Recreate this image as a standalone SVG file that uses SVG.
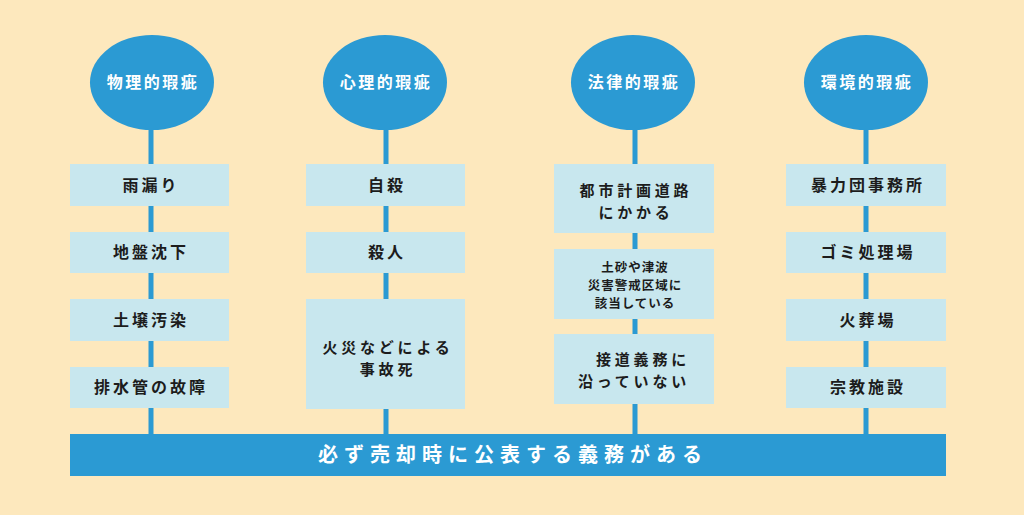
<svg xmlns="http://www.w3.org/2000/svg" width="1024" height="515" viewBox="0 0 1024 515">
<style>
.bg{fill:#fde8bd}
.el{fill:#2b9ad3}
.box{fill:#c8e7ee}
.ln{stroke:#2b9ad3;stroke-width:5;fill:none}
.et{font-family:"Noto Sans CJK JP","Noto Sans",sans-serif;font-size:16px;font-weight:700;fill:#ffffff;text-anchor:middle;letter-spacing:2.5px}
.bt{font-family:"Noto Sans CJK JP","Noto Sans",sans-serif;font-size:16px;font-weight:700;fill:#1c1c1c;text-anchor:middle;letter-spacing:3px}
.mt{font-family:"Noto Sans CJK JP","Noto Sans",sans-serif;font-size:15px;font-weight:700;fill:#1c1c1c;text-anchor:middle;letter-spacing:3.8px}
.st{font-family:"Noto Sans CJK JP","Noto Sans",sans-serif;font-size:12.5px;font-weight:700;fill:#1c1c1c;text-anchor:middle;letter-spacing:1px}
.bar{fill:#2b9ad3}
.bart{font-family:"Noto Sans CJK JP","Noto Sans",sans-serif;font-size:20px;font-weight:700;fill:#ffffff;text-anchor:middle;letter-spacing:6px}
</style>
<rect class="bg" x="0" y="0" width="1024" height="515"/>
<g id="connectors">
<line class="ln" x1="151" y1="125" x2="151" y2="436"/>
<line class="ln" x1="386" y1="125" x2="386" y2="436"/>
<line class="ln" x1="635" y1="125" x2="635" y2="436"/>
<line class="ln" x1="866" y1="125" x2="866" y2="436"/>
</g>
<g id="cat-physical">
<ellipse class="el" cx="152" cy="82.5" rx="62" ry="47.5"/>
<text class="et" x="153" y="88">物理的瑕疵</text>
</g>
<g id="cat-psychological">
<ellipse class="el" cx="385" cy="82.5" rx="62" ry="47.5"/>
<text class="et" x="386" y="88">心理的瑕疵</text>
</g>
<g id="cat-legal">
<ellipse class="el" cx="633" cy="82.5" rx="62" ry="47.5"/>
<text class="et" x="634" y="88">法律的瑕疵</text>
</g>
<g id="cat-environmental">
<ellipse class="el" cx="866" cy="82.5" rx="62" ry="47.5"/>
<text class="et" x="867" y="88">環境的瑕疵</text>
</g>
<g id="p1"><rect class="box" x="70" y="164" width="159" height="42"/><text class="bt" x="151" y="191">雨漏り</text></g>
<g id="p2"><rect class="box" x="70" y="232" width="159" height="41"/><text class="bt" x="151" y="258">地盤沈下</text></g>
<g id="p3"><rect class="box" x="70" y="299" width="159" height="42"/><text class="bt" x="151" y="326">土壌汚染</text></g>
<g id="p4"><rect class="box" x="70" y="367" width="159" height="41"/><text class="bt" x="151" y="393">排水管の故障</text></g>
<g id="s1"><rect class="box" x="306" y="164" width="159" height="42"/><text class="bt" x="387" y="191">自殺</text></g>
<g id="s2"><rect class="box" x="306" y="232" width="159" height="41"/><text class="bt" x="387" y="258">殺人</text></g>
<g id="s3"><rect class="box" x="306" y="299" width="159" height="110"/><text class="mt" x="388" y="353">火災などによる</text><text class="mt" x="388" y="375">事故死</text></g>
<g id="l1"><rect class="box" x="554" y="164" width="160" height="69"/><text class="mt" x="636" y="196">都市計画道路</text><text class="mt" x="636" y="218">にかかる</text></g>
<g id="l2"><rect class="box" x="554" y="249" width="160" height="70"/><text class="st" x="635" y="272">土砂や津波</text><text class="st" x="635" y="290">災害警戒区域に</text><text class="st" x="635" y="308">該当している</text></g>
<g id="l3"><rect class="box" x="554" y="334" width="160" height="70"/><text class="mt" x="643" y="365">接道義務に</text><text class="mt" x="634" y="387">沿っていない</text></g>
<g id="e1"><rect class="box" x="786" y="164" width="160" height="42"/><text class="bt" x="868" y="191">暴力団事務所</text></g>
<g id="e2"><rect class="box" x="786" y="232" width="160" height="41"/><text class="bt" x="868" y="258">ゴミ処理場</text></g>
<g id="e3"><rect class="box" x="786" y="299" width="160" height="42"/><text class="bt" x="868" y="326">火葬場</text></g>
<g id="e4"><rect class="box" x="786" y="367" width="160" height="41"/><text class="bt" x="868" y="393">宗教施設</text></g>
<g id="bottom-bar">
<rect class="bar" x="70" y="434" width="876" height="42"/>
<text class="bart" x="513" y="462">必ず売却時に公表する義務がある</text>
</g>
</svg>
